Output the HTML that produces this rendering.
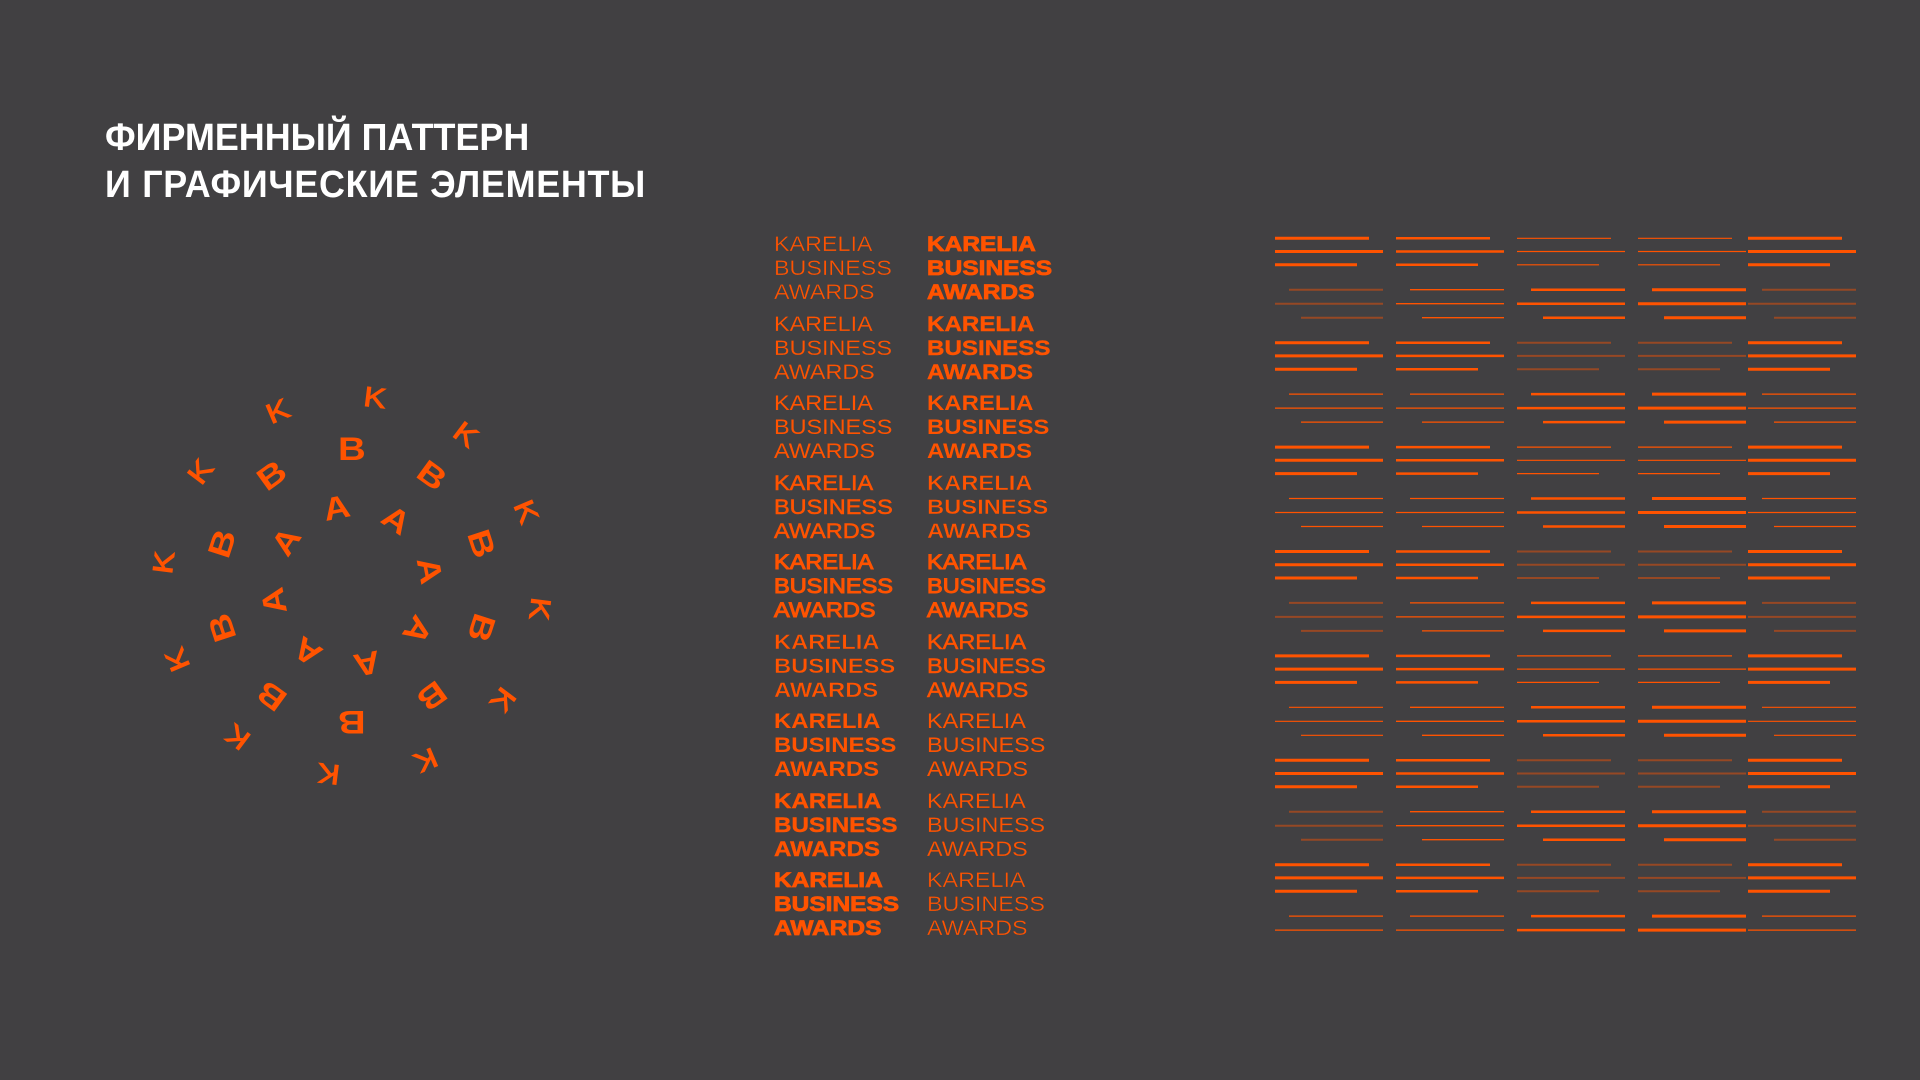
<!DOCTYPE html>
<html>
<head>
<meta charset="utf-8">
<style>
html,body{margin:0;padding:0;}
body{width:1920px;height:1080px;background:#414042;position:relative;overflow:hidden;font-family:"Liberation Sans",Arial,sans-serif;}
.title{position:absolute;left:105px;top:115px;font-weight:700;font-size:38px;line-height:47.3px;color:#fff;white-space:nowrap;transform:scaleX(0.945);transform-origin:0 0;}
.title .l2{letter-spacing:0.75px;}
.kba{position:absolute;font-size:21px;line-height:24px;color:#ff5300;white-space:nowrap;transform-origin:0 0;}
.kba div{display:block;}
.L{left:774.3px;}
.Rc{left:926.5px;}
.w1{font-weight:400;-webkit-text-stroke:0.35px #414042;transform:scaleX(1.11);}
.w2{font-weight:400;-webkit-text-stroke:0.15px #414042;transform:scaleX(1.112);}
.w3{font-weight:400;transform:scaleX(1.115);}
.w4{font-weight:400;-webkit-text-stroke:0.5px #ff5300;transform:scaleX(1.118);}
.w5{font-weight:400;-webkit-text-stroke:1px #ff5300;transform:scaleX(1.12);}
.w6{font-weight:700;-webkit-text-stroke:0.4px #414042;transform:scaleX(1.13);}
.w7{font-weight:700;transform:scaleX(1.14);}
.w8{font-weight:700;-webkit-text-stroke:0.4px #ff5300;transform:scaleX(1.15);}
.w9{font-weight:700;-webkit-text-stroke:0.8px #ff5300;transform:scaleX(1.165);}
svg{position:absolute;left:0;top:0;}
</style>
</head>
<body>
<div class="title"><span>ФИРМЕННЫЙ ПАТТЕРН</span><br><span class="l2">И ГРАФИЧЕСКИЕ ЭЛЕМЕНТЫ</span></div>

<svg width="1920" height="1080" viewBox="0 0 1920 1080">
<defs>
<path id="Lg" d="M0 0h94M0 13.2h108M0 26.5h82"/>
<path id="Rg" d="M14 0h94M0 14h108M26 28h82"/>
<path id="Rg2" d="M14 0h94M0 14h108"/>
</defs>
<g fill="none" stroke="#ff5300">
<use href="#Lg" x="1275" y="238.3" stroke-width="3"/>
<use href="#Lg" x="1396" y="238.3" stroke-width="2.5"/>
<use href="#Lg" x="1517" y="238.3" stroke-width="1.2"/>
<use href="#Lg" x="1638" y="238.3" stroke-width="1.2"/>
<use href="#Lg" x="1748" y="238.3" stroke-width="3"/>

<use href="#Lg" x="1275" y="342.7" stroke-width="3"/>
<use href="#Lg" x="1396" y="342.7" stroke-width="2.5"/>
<use href="#Lg" x="1517" y="342.7" stroke-width="2" stroke-opacity="0.45"/>
<use href="#Lg" x="1638" y="342.7" stroke-width="2" stroke-opacity="0.45"/>
<use href="#Lg" x="1748" y="342.7" stroke-width="3"/>

<use href="#Lg" x="1275" y="447.1" stroke-width="3"/>
<use href="#Lg" x="1396" y="447.1" stroke-width="2.5"/>
<use href="#Lg" x="1517" y="447.1" stroke-width="1.2"/>
<use href="#Lg" x="1638" y="447.1" stroke-width="1.2"/>
<use href="#Lg" x="1748" y="447.1" stroke-width="3"/>

<use href="#Lg" x="1275" y="551.5" stroke-width="3"/>
<use href="#Lg" x="1396" y="551.5" stroke-width="2.5"/>
<use href="#Lg" x="1517" y="551.5" stroke-width="2" stroke-opacity="0.45"/>
<use href="#Lg" x="1638" y="551.5" stroke-width="2" stroke-opacity="0.45"/>
<use href="#Lg" x="1748" y="551.5" stroke-width="3"/>

<use href="#Lg" x="1275" y="655.9" stroke-width="3"/>
<use href="#Lg" x="1396" y="655.9" stroke-width="2.5"/>
<use href="#Lg" x="1517" y="655.9" stroke-width="1.2"/>
<use href="#Lg" x="1638" y="655.9" stroke-width="1.2"/>
<use href="#Lg" x="1748" y="655.9" stroke-width="3"/>

<use href="#Lg" x="1275" y="760.3" stroke-width="3"/>
<use href="#Lg" x="1396" y="760.3" stroke-width="2.5"/>
<use href="#Lg" x="1517" y="760.3" stroke-width="2" stroke-opacity="0.45"/>
<use href="#Lg" x="1638" y="760.3" stroke-width="2" stroke-opacity="0.45"/>
<use href="#Lg" x="1748" y="760.3" stroke-width="3"/>

<use href="#Lg" x="1275" y="864.7" stroke-width="3"/>
<use href="#Lg" x="1396" y="864.7" stroke-width="2.5"/>
<use href="#Lg" x="1517" y="864.7" stroke-width="2" stroke-opacity="0.45"/>
<use href="#Lg" x="1638" y="864.7" stroke-width="2" stroke-opacity="0.45"/>
<use href="#Lg" x="1748" y="864.7" stroke-width="3"/>

<use href="#Rg" x="1275" y="289.7" stroke-width="2" stroke-opacity="0.45"/>
<use href="#Rg" x="1396" y="289.7" stroke-width="1.3"/>
<use href="#Rg" x="1517" y="289.7" stroke-width="2.5"/>
<use href="#Rg" x="1638" y="289.7" stroke-width="3"/>
<use href="#Rg" x="1748" y="289.7" stroke-width="2" stroke-opacity="0.45"/>

<use href="#Rg" x="1275" y="394.1" stroke-width="1.2"/>
<use href="#Rg" x="1396" y="394.1" stroke-width="1.3"/>
<use href="#Rg" x="1517" y="394.1" stroke-width="2.5"/>
<use href="#Rg" x="1638" y="394.1" stroke-width="3"/>
<use href="#Rg" x="1748" y="394.1" stroke-width="1.2"/>

<use href="#Rg" x="1275" y="498.5" stroke-width="1.2"/>
<use href="#Rg" x="1396" y="498.5" stroke-width="1.3"/>
<use href="#Rg" x="1517" y="498.5" stroke-width="2.5"/>
<use href="#Rg" x="1638" y="498.5" stroke-width="3"/>
<use href="#Rg" x="1748" y="498.5" stroke-width="1.2"/>

<use href="#Rg" x="1275" y="602.9" stroke-width="2" stroke-opacity="0.45"/>
<use href="#Rg" x="1396" y="602.9" stroke-width="1.3"/>
<use href="#Rg" x="1517" y="602.9" stroke-width="2.5"/>
<use href="#Rg" x="1638" y="602.9" stroke-width="3"/>
<use href="#Rg" x="1748" y="602.9" stroke-width="2" stroke-opacity="0.45"/>

<use href="#Rg" x="1275" y="707.3" stroke-width="1.2"/>
<use href="#Rg" x="1396" y="707.3" stroke-width="1.3"/>
<use href="#Rg" x="1517" y="707.3" stroke-width="2.5"/>
<use href="#Rg" x="1638" y="707.3" stroke-width="3"/>
<use href="#Rg" x="1748" y="707.3" stroke-width="1.2"/>

<use href="#Rg" x="1275" y="811.7" stroke-width="2" stroke-opacity="0.45"/>
<use href="#Rg" x="1396" y="811.7" stroke-width="1.3"/>
<use href="#Rg" x="1517" y="811.7" stroke-width="2.5"/>
<use href="#Rg" x="1638" y="811.7" stroke-width="3"/>
<use href="#Rg" x="1748" y="811.7" stroke-width="2" stroke-opacity="0.45"/>

<use href="#Rg2" x="1275" y="916.1" stroke-width="1.2"/>
<use href="#Rg2" x="1396" y="916.1" stroke-width="1.3"/>
<use href="#Rg2" x="1517" y="916.1" stroke-width="2.5"/>
<use href="#Rg2" x="1638" y="916.1" stroke-width="3"/>
<use href="#Rg2" x="1748" y="916.1" stroke-width="1.2"/>
</g>

<g fill="#ff5300" font-family="Liberation Sans, Arial, sans-serif" text-anchor="middle">
<g font-size="28" font-weight="400" stroke="#ff5300" stroke-width="0.9">
<g transform="translate(351.8 585.7) rotate(7) translate(0 -190) scale(1.2 1)"><text y="10">K</text></g>
<g transform="translate(351.8 585.7) rotate(37) translate(0 -190) scale(1.2 1)"><text y="10">K</text></g>
<g transform="translate(351.8 585.7) rotate(67) translate(0 -190) scale(1.2 1)"><text y="10">K</text></g>
<g transform="translate(351.8 585.7) rotate(97) translate(0 -190) scale(1.2 1)"><text y="10">K</text></g>
<g transform="translate(351.8 585.7) rotate(127) translate(0 -190) scale(1.2 1)"><text y="10">K</text></g>
<g transform="translate(351.8 585.7) rotate(157) translate(0 -190) scale(1.2 1)"><text y="10">K</text></g>
<g transform="translate(351.8 585.7) rotate(187) translate(0 -190) scale(1.2 1)"><text y="10">K</text></g>
<g transform="translate(351.8 585.7) rotate(217) translate(0 -190) scale(1.2 1)"><text y="10">K</text></g>
<g transform="translate(351.8 585.7) rotate(247) translate(0 -190) scale(1.2 1)"><text y="10">K</text></g>
<g transform="translate(351.8 585.7) rotate(277) translate(0 -190) scale(1.2 1)"><text y="10">K</text></g>
<g transform="translate(351.8 585.7) rotate(307) translate(0 -190) scale(1.2 1)"><text y="10">K</text></g>
<g transform="translate(351.8 585.7) rotate(337) translate(0 -190) scale(1.2 1)"><text y="10">K</text></g>
</g>
<g font-size="32" font-weight="700">
<g transform="translate(351.8 585.7) rotate(0) translate(0 -137) scale(1.2 1)"><text y="11.5">B</text></g>
<g transform="translate(351.8 585.7) rotate(36) translate(0 -137) scale(1.2 1)"><text y="11.5">B</text></g>
<g transform="translate(351.8 585.7) rotate(72) translate(0 -137) scale(1.2 1)"><text y="11.5">B</text></g>
<g transform="translate(351.8 585.7) rotate(108) translate(0 -137) scale(1.2 1)"><text y="11.5">B</text></g>
<g transform="translate(351.8 585.7) rotate(144) translate(0 -137) scale(1.2 1)"><text y="11.5">B</text></g>
<g transform="translate(351.8 585.7) rotate(180) translate(0 -137) scale(1.2 1)"><text y="11.5">B</text></g>
<g transform="translate(351.8 585.7) rotate(216) translate(0 -137) scale(1.2 1)"><text y="11.5">B</text></g>
<g transform="translate(351.8 585.7) rotate(252) translate(0 -137) scale(1.2 1)"><text y="11.5">B</text></g>
<g transform="translate(351.8 585.7) rotate(288) translate(0 -137) scale(1.2 1)"><text y="11.5">B</text></g>
<g transform="translate(351.8 585.7) rotate(324) translate(0 -137) scale(1.2 1)"><text y="11.5">B</text></g>
</g>
<g font-size="32" font-weight="700">
<g transform="translate(351.8 585.7) rotate(349) translate(0 -80) scale(1.15 1)"><text y="11.5">A</text></g>
<g transform="translate(351.8 585.7) rotate(34) translate(0 -80) scale(1.15 1)"><text y="11.5">A</text></g>
<g transform="translate(351.8 585.7) rotate(79) translate(0 -80) scale(1.15 1)"><text y="11.5">A</text></g>
<g transform="translate(351.8 585.7) rotate(124) translate(0 -80) scale(1.15 1)"><text y="11.5">A</text></g>
<g transform="translate(351.8 585.7) rotate(169) translate(0 -80) scale(1.15 1)"><text y="11.5">A</text></g>
<g transform="translate(351.8 585.7) rotate(214) translate(0 -80) scale(1.15 1)"><text y="11.5">A</text></g>
<g transform="translate(351.8 585.7) rotate(259) translate(0 -80) scale(1.15 1)"><text y="11.5">A</text></g>
<g transform="translate(351.8 585.7) rotate(304) translate(0 -80) scale(1.15 1)"><text y="11.5">A</text></g>
</g>
</g>
</svg>

<div class="kba L w1" style="top:233.4px"><div>KARELIA</div><div>BUSINESS</div><div>AWARDS</div></div>
<div class="kba Rc w9" style="top:233.4px"><div>KARELIA</div><div>BUSINESS</div><div>AWARDS</div></div>

<div class="kba L w2" style="top:312.9px"><div>KARELIA</div><div>BUSINESS</div><div>AWARDS</div></div>
<div class="kba Rc w8" style="top:312.9px"><div>KARELIA</div><div>BUSINESS</div><div>AWARDS</div></div>

<div class="kba L w3" style="top:392.4px"><div>KARELIA</div><div>BUSINESS</div><div>AWARDS</div></div>
<div class="kba Rc w7" style="top:392.4px"><div>KARELIA</div><div>BUSINESS</div><div>AWARDS</div></div>

<div class="kba L w4" style="top:471.9px"><div>KARELIA</div><div>BUSINESS</div><div>AWARDS</div></div>
<div class="kba Rc w6" style="top:471.9px"><div>KARELIA</div><div>BUSINESS</div><div>AWARDS</div></div>

<div class="kba L w5" style="top:551.4px"><div>KARELIA</div><div>BUSINESS</div><div>AWARDS</div></div>
<div class="kba Rc w5" style="top:551.4px"><div>KARELIA</div><div>BUSINESS</div><div>AWARDS</div></div>

<div class="kba L w6" style="top:630.9px"><div>KARELIA</div><div>BUSINESS</div><div>AWARDS</div></div>
<div class="kba Rc w4" style="top:630.9px"><div>KARELIA</div><div>BUSINESS</div><div>AWARDS</div></div>

<div class="kba L w7" style="top:710.4px"><div>KARELIA</div><div>BUSINESS</div><div>AWARDS</div></div>
<div class="kba Rc w3" style="top:710.4px"><div>KARELIA</div><div>BUSINESS</div><div>AWARDS</div></div>

<div class="kba L w8" style="top:789.9px"><div>KARELIA</div><div>BUSINESS</div><div>AWARDS</div></div>
<div class="kba Rc w2" style="top:789.9px"><div>KARELIA</div><div>BUSINESS</div><div>AWARDS</div></div>

<div class="kba L w9" style="top:869.4px"><div>KARELIA</div><div>BUSINESS</div><div>AWARDS</div></div>
<div class="kba Rc w1" style="top:869.4px"><div>KARELIA</div><div>BUSINESS</div><div>AWARDS</div></div>

</body>
</html>
